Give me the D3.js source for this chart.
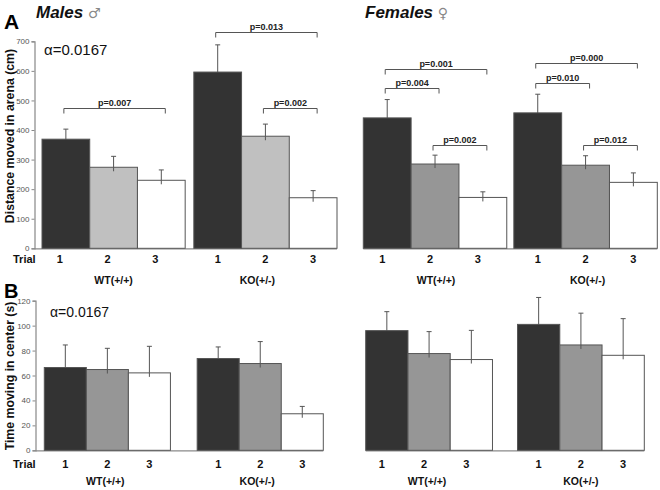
<!DOCTYPE html>
<html><head><meta charset="utf-8">
<script src="https://cdn.jsdelivr.net/npm/d3@7"></script>
<style>
body{margin:0;background:#fff;}
svg{display:block;font-family:"Liberation Sans",Arial,sans-serif;}
</style></head>
<body><svg id="c" width="660" height="490"></svg>
<script>
// ---------- data ----------
const trials = ["1", "2", "3"];
const groups = ["WT(+/+)", "KO(+/-)"];
const yTicksA = [0, 100, 200, 300, 400, 500, 600, 700];
const yTicksB = [0, 20, 40, 60, 80, 100, 120];

// A: distance moved in arena (cm)
const maleDistWT = [369, 274, 230];
const maleDistWTErr = [34, 37, 35];
const maleDistKO = [596, 379, 171];
const maleDistKOErr = [92, 41, 24];
const femaleDistWT = [441, 285, 172];
const femaleDistWTErr = [62, 30, 19];
const femaleDistKO = [458, 281, 223];
const femaleDistKOErr = [63, 32, 32];

// B: time moving in center (s)
const maleTimeWT = [66.4, 64.8, 62.1];
const maleTimeWTErr = [18.1, 17.0, 21.3];
const maleTimeKO = [73.6, 69.6, 29.3];
const maleTimeKOErr = [9.3, 17.6, 5.9];
const femaleTimeWT = [96.0, 77.6, 72.8];
const femaleTimeWTErr = [15.2, 17.6, 23.4];
const femaleTimeKO = [101.0, 84.5, 76.2];
const femaleTimeKOErr = [21.6, 25.5, 29.4];

// significance brackets: group, from trial, to trial, height (data units), label
const maleDistBrackets = [
  {g: "WT(+/+)", a: "1", b: "3", y: 476, p: "p=0.007"},
  {g: "KO(+/-)", a: "1", b: "3", y: 732, p: "p=0.013"},
  {g: "KO(+/-)", a: "2", b: "3", y: 476, p: "p=0.002"}
];
const femaleDistBrackets = [
  {g: "WT(+/+)", a: "1", b: "3", y: 608, p: "p=0.001"},
  {g: "WT(+/+)", a: "1", b: "2", y: 542, p: "p=0.004"},
  {g: "WT(+/+)", a: "2", b: "3", y: 351, p: "p=0.002"},
  {g: "KO(+/-)", a: "1", b: "3", y: 626, p: "p=0.000"},
  {g: "KO(+/-)", a: "1", b: "2", y: 559, p: "p=0.010"},
  {g: "KO(+/-)", a: "2", b: "3", y: 351, p: "p=0.012"}
];

const colorsLight = ["#333333", "#c0c0c0", "#ffffff"];
const colorsMid = ["#333333", "#969696", "#ffffff"];

// ---------- drawing ----------
const svg = d3.select("#c");

function panel(o) {
  const g = svg.append("g");
  const x0 = d3.scaleBand().domain(groups).range(o.xr).paddingInner(o.gap);
  const x1 = d3.scaleBand().domain(trials).range([0, x0.bandwidth()]);
  const y = d3.scaleLinear().domain(o.yd).range(o.yr);
  const cx = (grp, t) => x0(grp) + x1(t) + x1.bandwidth() / 2;

  g.append("line").attr("x1", o.axisX != null ? o.axisX : o.xr[0]).attr("x2", o.xr[1])
    .attr("y1", y(0) + 0.5).attr("y2", y(0) + 0.5)
    .attr("stroke", "#8a8a8a").attr("stroke-width", 1.2);

  const data = [];
  groups.forEach((grp, gi) => {
    trials.forEach((t, ti) => {
      data.push({grp, t, ti, v: o.vals[gi][ti], e: o.errs[gi][ti]});
    });
  });

  const eb = g.selectAll(".eb").data(data).enter().append("g");
  eb.append("line")
    .attr("x1", d => cx(d.grp, d.t)).attr("x2", d => cx(d.grp, d.t))
    .attr("y1", d => y(d.v) + 4).attr("y2", d => y(d.v + d.e))
    .attr("stroke", "#555").attr("stroke-width", 1);
  eb.append("line")
    .attr("x1", d => cx(d.grp, d.t) - 2.5).attr("x2", d => cx(d.grp, d.t) + 2.5)
    .attr("y1", d => y(d.v + d.e)).attr("y2", d => y(d.v + d.e))
    .attr("stroke", "#555").attr("stroke-width", 1);

  g.selectAll(".bar").data(data).enter().append("rect")
    .attr("x", d => x0(d.grp) + x1(d.t))
    .attr("width", x1.bandwidth())
    .attr("y", d => y(d.v))
    .attr("height", d => y(0) - y(d.v))
    .attr("fill", d => o.colors[d.ti])
    .attr("stroke", "#555").attr("stroke-width", 1);

  g.selectAll(".eb2").data(data.filter(d => d.ti > 0)).enter().append("line")
    .attr("x1", d => cx(d.grp, d.t)).attr("x2", d => cx(d.grp, d.t))
    .attr("y1", d => y(d.v) + 4).attr("y2", d => y(d.v))
    .attr("stroke", "#555").attr("stroke-width", 1);

  (o.brackets || []).forEach(b => {
    const xa = cx(b.g, b.a) - 2, xb = cx(b.g, b.b) + 4, yy = Math.round(y(b.y)) + 0.5;
    g.append("path")
      .attr("d", `M${xa},${yy + 5}V${yy}H${xb}V${yy + 5}`)
      .attr("fill", "none").attr("stroke", "#555").attr("stroke-width", 1);
    g.append("text").attr("x", (xa + xb) / 2).attr("y", yy - 3)
      .attr("text-anchor", "middle").attr("font-size", 9).attr("font-weight", "bold")
      .attr("fill", "#222").text(b.p);
  });

  if (o.axisX != null) {
    const ax = g.append("g").attr("transform", `translate(${o.axisX},0)`)
      .call(d3.axisLeft(y).tickValues(o.ticks).tickSize(3).tickPadding(2));
    ax.select(".domain").attr("stroke", "#888").attr("stroke-width", 1.2);
    ax.selectAll(".tick line").attr("stroke", "#888");
    ax.selectAll(".tick text").attr("font-size", 8).attr("fill", "#555")
      .attr("font-family", "Liberation Sans, Arial, sans-serif");
  }

  data.forEach(d => {
    g.append("text").attr("x", cx(d.grp, d.t) - (d.grp === groups[0] ? o.wtShift : 0)).attr("y", o.trialY)
      .attr("text-anchor", "middle").attr("font-size", 11).attr("font-weight", "bold")
      .attr("fill", "#111").text(d.t);
  });
  groups.forEach((grp, gi) => {
    o.groupY.forEach(gy => {
      g.append("text").attr("x", x0(grp) + x0.bandwidth() / 2 + o.groupShift[gi]).attr("y", gy)
        .attr("text-anchor", "middle").attr("font-size", 10.5).attr("font-weight", "bold")
        .attr("fill", "#111").text(grp);
    });
  });
  return {x0, x1, y};
}

panel({xr: [42, 337], gap: 0.057, yd: [0, 700], yr: [248.3, 41.3], axisX: 34.5,
  ticks: yTicksA, vals: [maleDistWT, maleDistKO], errs: [maleDistWTErr, maleDistKOErr],
  colors: colorsLight, brackets: maleDistBrackets, trialY: 263, wtShift: 6,
  groupY: [284], groupShift: [0, -8]});
panel({xr: [363.3, 657.3], gap: 0.047, yd: [0, 700], yr: [248.3, 41.3], axisX: null,
  ticks: yTicksA, vals: [femaleDistWT, femaleDistKO], errs: [femaleDistWTErr, femaleDistKOErr],
  colors: colorsMid, brackets: femaleDistBrackets, trialY: 263, wtShift: 5,
  groupY: [284], groupShift: [1, 2]});
panel({xr: [44.3, 323.3], gap: 0.175, yd: [0, 120], yr: [450.3, 300.7], axisX: 35.5,
  ticks: yTicksB, vals: [maleTimeWT, maleTimeKO], errs: [maleTimeWTErr, maleTimeKOErr],
  colors: colorsMid, brackets: [], trialY: 468, wtShift: 0,
  groupY: [485], groupShift: [-2, -3]});
panel({xr: [365.7, 644.3], gap: 0.165, yd: [0, 120], yr: [450.3, 300.7], axisX: null,
  ticks: yTicksB, vals: [femaleTimeWT, femaleTimeKO], errs: [femaleTimeWTErr, femaleTimeKOErr],
  colors: colorsMid, brackets: [], trialY: 468, wtShift: 5,
  groupY: [485], groupShift: [-2, 0]});

[263, 468].forEach(ty => svg.append("text").attr("x", 13).attr("y", ty)
  .attr("font-size", 11).attr("font-weight", "bold").attr("fill", "#111").text("Trial"));

svg.append("text").attr("x", 4).attr("y", 29).attr("font-size", 21).attr("font-weight", "bold").text("A");
svg.append("text").attr("x", 4).attr("y", 298).attr("font-size", 20).attr("font-weight", "bold").text("B");

const tM = svg.append("text").attr("x", 36).attr("y", 18).attr("font-size", 17)
  .attr("font-weight", "bold").attr("font-style", "italic").attr("fill", "#111");
tM.append("tspan").text("Males ");
tM.append("tspan").attr("font-weight", "normal").attr("font-style", "normal").attr("fill", "#888")
  .attr("font-family", "DejaVu Sans").attr("font-size", 14).text("♂");
const tF = svg.append("text").attr("x", 365).attr("y", 18).attr("font-size", 17)
  .attr("font-weight", "bold").attr("font-style", "italic").attr("fill", "#111");
tF.append("tspan").text("Females ");
tF.append("tspan").attr("font-weight", "normal").attr("font-style", "normal").attr("fill", "#888")
  .attr("font-family", "DejaVu Sans").attr("font-size", 14).text("♀");

svg.append("text").attr("x", 44).attr("y", 55).attr("font-size", 15).attr("fill", "#111").text("α=0.0167");
svg.append("text").attr("x", 50).attr("y", 317).attr("font-size", 14).attr("fill", "#111").text("α=0.0167");

svg.append("text").attr("transform", "translate(14,136) rotate(-90)").attr("text-anchor", "middle")
  .attr("font-size", 12.3).attr("font-weight", "bold").attr("fill", "#111").text("Distance moved in arena (cm)");
svg.append("text").attr("transform", "translate(14,376) rotate(-90)").attr("text-anchor", "middle")
  .attr("font-size", 12.3).attr("font-weight", "bold").attr("fill", "#111").text("Time moving in center (s)");
</script></body></html>
